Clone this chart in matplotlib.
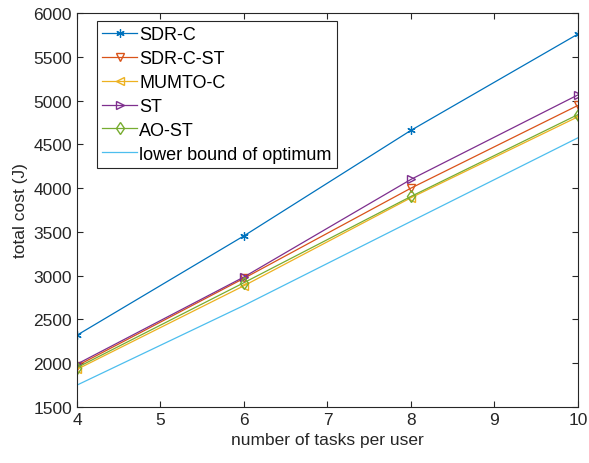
import matplotlib
matplotlib.use("Agg")
import matplotlib.pyplot as plt

plt.rcParams['font.family'] = ['Liberation Sans', 'DejaVu Sans']

tasks = [4, 6, 8, 10]
sdr_c = [2320, 3455, 4660, 5760]
sdr_c_st = [1970, 2970, 4000, 4945]
mumto_c = [1930, 2885, 3890, 4815]
st = [1990, 2985, 4100, 5065]
ao_st = [1950, 2920, 3905, 4840]
lower_bound = [1750, 2660, 3620, 4575]

fig = plt.figure(figsize=(5.89, 4.64), dpi=100)
ax = fig.add_axes([0.1307, 0.1207, 0.8506, 0.8491])

# asterisk-style marker for SDR-C
ax.plot(tasks, sdr_c, '-', marker=(6, 2, 0), color='#0072BD', lw=0.9, ms=6, mew=0.9, label='SDR-C')
ax.plot(tasks, sdr_c_st, '-v', color='#D95319', lw=0.9, ms=6, mfc='none', label='SDR-C-ST')
ax.plot(tasks, mumto_c, '-<', color='#EDB120', lw=0.9, ms=6, mfc='none', label='MUMTO-C')
ax.plot(tasks, st, '->', color='#7E2F8E', lw=0.9, ms=6, mfc='none', label='ST')
ax.plot(tasks, ao_st, '-d', color='#77AC30', lw=0.9, ms=6, mfc='none', label='AO-ST')
ax.plot(tasks, lower_bound, '-', color='#4DBEEE', lw=0.9, label='lower bound of optimum')

ax.set_xlim(4, 10)
ax.set_ylim(1500, 6000)
ax.set_xticks(range(4, 11))
ax.set_yticks(range(1500, 6001, 500))
ax.tick_params(direction='in', top=True, right=True, labelsize=12.5,
               colors='#262626', length=4, width=0.8)
for s in ax.spines.values():
    s.set_color('#262626')
    s.set_linewidth(0.8)
ax.set_xlabel('number of tasks per user', fontsize=12.5, color='#262626')
ax.set_ylabel('total cost (J)', fontsize=12.5, color='#262626')

leg = ax.legend(loc='upper left', bbox_to_anchor=(0.04, 0.98), fontsize=13,
                fancybox=False, framealpha=1, edgecolor='#262626',
                handlelength=1.9, handletextpad=0.15, labelspacing=0.38,
                borderaxespad=0, borderpad=0.3)
leg.get_frame().set_linewidth(0.8)

fig.savefig('out.png', dpi=100)
